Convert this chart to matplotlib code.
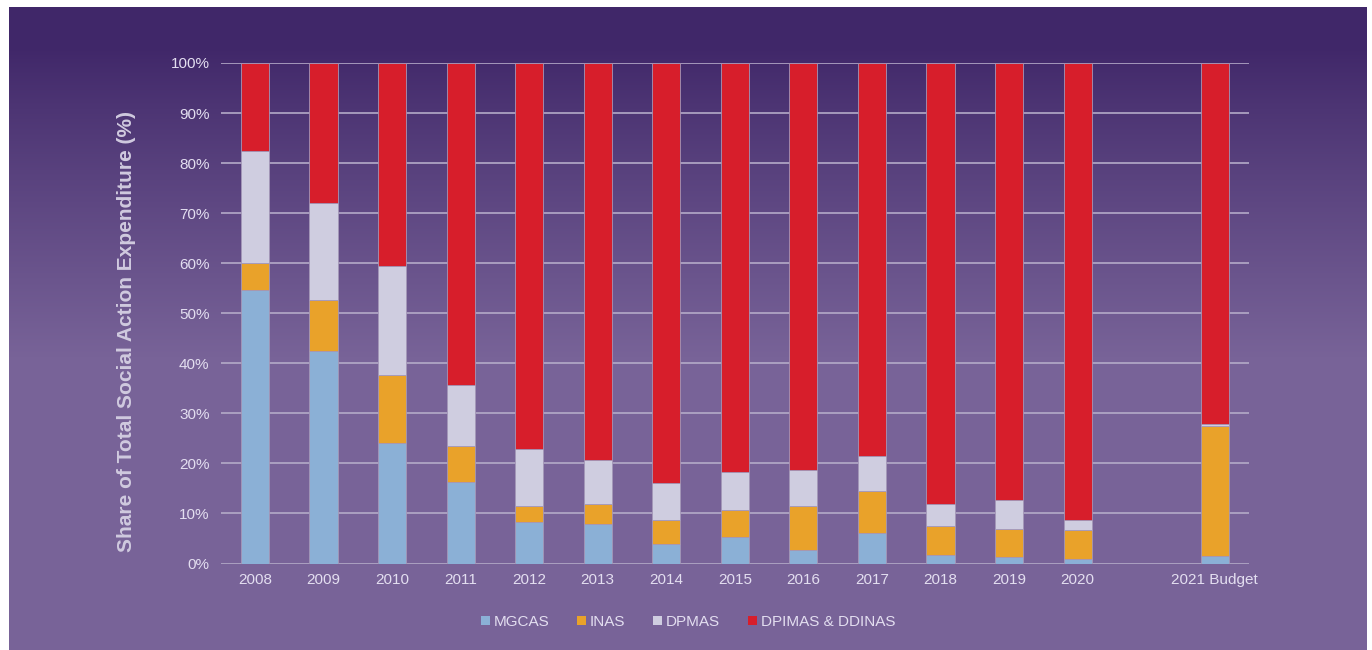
import numpy as np
import matplotlib.pyplot as plt
from matplotlib.colors import to_rgb
from matplotlib.patches import Patch

plt.rcParams['font.family'] = ['Liberation Sans', 'DejaVu Sans']

years = ["2008", "2009", "2010", "2011", "2012", "2013", "2014", "2015",
         "2016", "2017", "2018", "2019", "2020", "2021 Budget"]
pos = list(range(13)) + [14]   # gap before the budget bar

# shares of total social action expenditure (%)
mgcas = [54.7, 42.4, 24.0, 16.2, 8.2, 7.8, 3.8, 5.3, 2.6, 6.1, 1.7, 1.3, 0.9, 1.4]
inas = [5.4, 10.2, 13.6, 7.3, 3.2, 4.0, 4.9, 5.4, 8.9, 8.4, 5.8, 5.6, 5.8, 26.0]
dpmas = [22.3, 19.5, 21.9, 12.1, 11.5, 8.9, 7.4, 7.5, 7.1, 7.0, 4.4, 5.7, 2.0, 0.4]
dpimas = [17.6, 27.9, 40.5, 64.4, 77.1, 79.3, 83.9, 81.8, 81.4, 78.5, 88.1, 87.4, 91.3, 72.2]

names = ["MGCAS", "INAS", "DPMAS", "DPIMAS & DDINAS"]
colors = ["#8bb0d6", "#e9a22a", "#cfcde0", "#d71e2b"]

txt = "#e3def0"
grid_c = "#b4aac8"

fig = plt.figure(figsize=(13.72, 6.5), dpi=100)
fig.patch.set_facecolor("white")

# gradient panel behind everything
bg = fig.add_axes([9 / 1372, 0, 1358 / 1372, 643 / 650], zorder=0)
h = 643
rows = np.arange(h)
t = np.clip((rows - 40) / 310.0, 0, 1) ** 0.9
c0 = np.array(to_rgb("#402769"))
c1 = np.array(to_rgb("#786398"))
grad = c0[None, :] * (1 - t[:, None]) + c1[None, :] * t[:, None]
bg.imshow(grad[:, None, :], aspect="auto", extent=[0, 1, 0, 1], origin="upper")
bg.axis("off")

ax = fig.add_axes([220.7 / 1372, 1 - 563.5 / 650, (1249 - 220.7) / 1372, 500.5 / 650], zorder=1)
ax.set_facecolor("none")

bottom = np.zeros(len(years))
for vals, name, col in zip([mgcas, inas, dpmas, dpimas], names, colors):
    ax.bar(pos, vals, width=0.41, bottom=bottom, color=col, edgecolor="#a497b8",
           linewidth=0.6, zorder=3)
    bottom += np.array(vals)

ax.set_xlim(-0.5, 14.5)
ax.set_ylim(0, 100)
ax.set_yticks(range(0, 101, 10))
ax.set_yticklabels([f"{v}%" for v in range(0, 101, 10)])
ax.set_xticks(pos)
ax.set_xticklabels(years)
ax.yaxis.grid(True, color=grid_c, linewidth=1.2, zorder=0)
ax.set_axisbelow(True)
for s in ax.spines.values():
    s.set_visible(False)
ax.tick_params(length=0, colors=txt, labelsize=11)
ax.tick_params(axis="y", pad=8)
ax.tick_params(axis="x", pad=7)

fig.text(127 / 1372, 1 - 331 / 650, "Share of Total Social Action Expenditure (%)",
         rotation=90, ha="center", va="center", color="#d0cadf", fontsize=15,
         fontweight="bold")

handles = [Patch(facecolor=c, edgecolor="none") for c in colors]
fig.legend(handles, names, loc="center", bbox_to_anchor=(688 / 1372, 1 - 622 / 650),
           ncol=4, frameon=False, fontsize=11, labelcolor=txt, handlelength=0.6,
           handleheight=0.6, handletextpad=0.25, columnspacing=1.8)

fig.savefig("out.png", dpi=100)
